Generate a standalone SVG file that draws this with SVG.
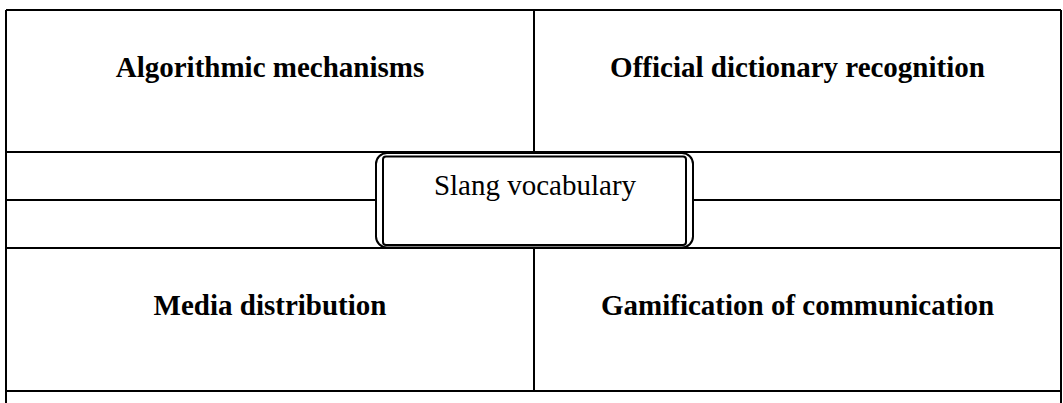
<svg xmlns="http://www.w3.org/2000/svg" width="1063" height="403" viewBox="0 0 1063 403">
<style>
.ln{stroke:#000;stroke-width:2;fill:none}
.lbl{font-family:"Liberation Serif","Times New Roman",serif;font-size:29px;font-weight:bold;fill:#000;text-anchor:middle}
.ctr{font-family:"Liberation Serif","Times New Roman",serif;font-size:29px;fill:#000;text-anchor:middle}
</style>
<rect width="1063" height="403" fill="#fff"/>
<g id="connectors">
<path class="ln" d="M6,10 H1061 M6,10 V403 M1061,10 V403 M6,152 H1061 M6,248 H1061 M6,391 H1061 M534,10 V152 M534,248 V391 M6,200 H376 M693,200 H1061"/>
</g>
<g id="algorithmic">
<text class="lbl" x="270" y="77">Algorithmic mechanisms</text>
</g>
<g id="official">
<text class="lbl" x="797.5" y="77">Official dictionary recognition</text>
</g>
<g id="media">
<text class="lbl" x="270" y="315">Media distribution</text>
</g>
<g id="gamification">
<text class="lbl" x="797.5" y="315">Gamification of communication</text>
</g>
<g id="slang">
<rect x="376" y="153" width="317" height="94.5" rx="11" fill="#fff" stroke="#000" stroke-width="2"/>
<rect x="383" y="156.5" width="303" height="88.5" rx="3" fill="#fff" stroke="#000" stroke-width="2"/>
<text class="ctr" x="535" y="195">Slang vocabulary</text>
</g>
</svg>
